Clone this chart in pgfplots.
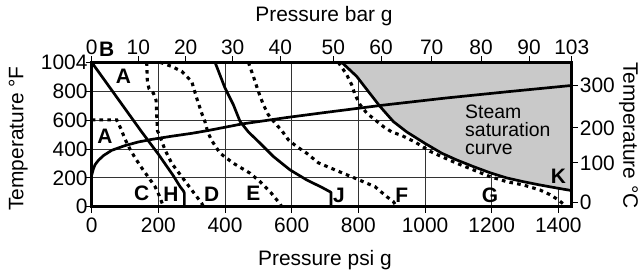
\documentclass[border=0pt]{standalone}
\usepackage{fontspec}
\setmainfont{Liberation Sans}
\usepackage{pgfplots}
\pgfplotsset{compat=1.18}
\begin{document}
\fontsize{21}{24}\selectfont
\begin{tikzpicture}
\useasboundingbox (-91.7bp,-68.3bp) rectangle (549.3bp,206.7bp);
\pgfplotsset{
  base/.style={at={(0,0)}, anchor=south west, scale only axis, width=480bp, height=144.4bp,
    xmin=0, xmax=1440, ymin=0, ymax=1004, tick align=outside, major tick length=6bp,
    tick style={black, line width=1bp}, clip=false},
  solid curve/.style={black, line width=2.7bp, line join=round},
  dot curve/.style={black, line width=3.1bp, dash pattern=on 3.6bp off 4.2bp},
}
\begin{axis}[base,
  axis line style={draw=none},
  xtick={0,200,...,1400}, xticklabels={0,200,400,600,800,1000,1200,1400},
  ytick={0,200,400,600,800,1004}, yticklabels={0,200,400,600,800,1004},
  xtick pos=left, ytick pos=left,
  yticklabel style={xshift=9bp},
  xticklabel style={yshift=1.5bp},
  grid=major, major grid style={black!80, line width=0.9bp},
  xlabel={Pressure psi g}, ylabel={Temperature °F},
  xlabel style={at={(axis description cs:0.486,-0.404)}, anchor=base},
  ylabel style={at={(axis description cs:-0.1425,0.472)}, anchor=base},
]
% shaded region above curve K
\addplot[fill=gray!42, draw=none] coordinates {
 (750,1004) (795,906) (830,801) (865,697) (905,592) (945,520) (1000,440) (1050,372)
 (1095,325) (1145,279) (1195,236) (1245,200) (1295,174) (1345,151) (1395,130) (1440,112)
 (1440,1004)} -- cycle;
% K (solid)
\addplot[solid curve] coordinates {
 (750,1004) (795,906) (830,801) (865,697) (905,592) (945,520) (1000,440) (1050,372)
 (1095,325) (1145,279) (1195,236) (1245,200) (1295,174) (1345,151) (1395,130) (1440,112)};
% H (solid)
\addplot[solid curve] coordinates {
 (0,1004) (150,520) (200,365) (245,215) (265,140) (275,110) (278,95) (278,0)};
% J (solid)
\addplot[solid curve] coordinates {
 (370,1004) (400,825) (425,709) (445,593) (470,520) (505,442) (545,349) (595,256)
 (645,186) (690,135) (718,100) (718,0)};
% saturation curve
\addplot[solid curve] coordinates {
 (0,220) (5,262) (10,292) (20,322) (35,355) (60,392) (100,425) (140,450) (180,468)
 (240,490) (300,510) (350,530) (450,575) (585,620) (700,655) (870,705) (1060,755)
 (1250,800) (1440,843)};
% C (dotted)
\addplot[dot curve] coordinates {
 (0,604) (75,604) (88,540) (100,470) (115,400) (130,340) (150,270) (170,205)
 (190,140) (203,75) (212,20) (215,0)};
% D (dotted)
\addplot[dot curve] coordinates {
 (165,1004) (167,870) (172,820) (185,790) (193,740) (195,640) (197,530) (205,488)
 (220,395) (240,302) (270,209) (300,116) (330,24) (335,0)};
% E (dotted)
\addplot[dot curve] coordinates {
 (205,1004) (240,975) (270,941) (300,871) (315,755) (330,650) (340,590) (348,520)
 (360,460) (385,372) (425,302) (475,233) (505,174) (535,105) (565,20) (570,0)};
% F (dotted)
\addplot[dot curve] coordinates {
 (470,1004) (485,906) (500,801) (515,709) (530,639) (550,581) (570,530) (590,465)
 (615,418) (645,372) (680,305) (730,256) (790,198) (850,139) (885,70) (905,35) (915,0)};
% G (dotted)
\addplot[dot curve] coordinates {
 (740,1004) (765,918) (780,848) (790,778) (805,709) (825,651) (850,604) (875,557)
 (900,520) (930,495) (970,450) (1015,385) (1050,348) (1095,302) (1145,256) (1195,209)
 (1245,174) (1295,151) (1345,116) (1375,84) (1400,47) (1425,0)};
% labels
\begin{scope}[every node/.style={font=\bfseries, inner sep=0pt}]
\node at (axis cs:45,1092) {B};
\node at (axis cs:95,906) {A};
\node at (axis cs:40,488) {A};
\node at (axis cs:150,91) {C};
\node at (axis cs:238,89) {H};
\node at (axis cs:360,84) {D};
\node at (axis cs:485,91) {E};
\node at (axis cs:742,82) {J};
\node at (axis cs:930,82) {F};
\node at (axis cs:1195,82) {G};
\node at (axis cs:1400,209) {K};
\end{scope}
\begin{scope}[every node/.style={font=\fontsize{19.5}{22}\selectfont, inner sep=0pt, anchor=base west}]
\node at (axis cs:1120,616) {Steam};
\node at (axis cs:1120,488) {saturation};
\node at (axis cs:1120,360) {curve};
\end{scope}
\end{axis}
\begin{axis}[base,
  axis line style={line width=3bp},
  xtick={0,140,282,423,566,725,868,1020,1168,1312,1440},
  xticklabels={0,10,20,30,40,50,60,70,80,90,103},
  ytick={28,304,548,841}, yticklabels={0,100,200,300},
  xtick pos=right, ytick pos=right, xticklabel pos=right, yticklabel pos=right,
  xticklabel style={yshift=-5.5bp},
  yticklabel style={xshift=-5bp},
  xlabel={Pressure bar g}, ylabel={Temperature °C},
  xlabel style={at={(axis description cs:0.484,1.281)}, anchor=base},
  ylabel style={at={(axis description cs:1.1075,0.493)}, anchor=base, rotate=180},
]
\end{axis}
\end{tikzpicture}
\end{document}
